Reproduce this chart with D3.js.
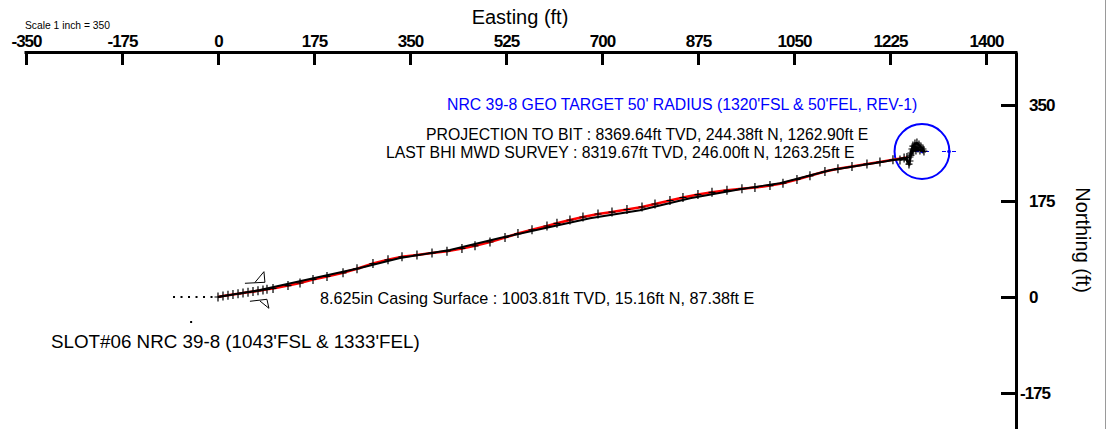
<!DOCTYPE html>
<html>
<head>
<meta charset="utf-8">
<script src="https://cdn.jsdelivr.net/npm/d3@7"></script>
<style>
  body { margin: 0; background: #fff; }
  text { font-family: "Liberation Sans", Arial, sans-serif; }
</style>
</head>
<body>
<svg id="chart" width="1107" height="429"></svg>
<script>
// axis ticks (ft)
const xTicks = [-350, -175, 0, 175, 350, 525, 700, 875, 1050, 1225, 1400];
const yTicks = [-175, 0, 175, 350];

// plan line (easting / northing, ft)
const planE = [0, 76.6, 167.7, 258.8, 331.8, 422.9, 514.0, 605.2, 678.1, 769.2, 860.4, 951.5, 1024.4, 1115.6, 1206.7, 1261.4];
const planN = [0, 12.8, 32.8, 52.9, 71.1, 85.7, 107.5, 127.6, 143.6, 158.2, 180.1, 196.5, 207.4, 231.1, 245.7, 254.8];

// survey stations (actual well path)
const surveyE = [0, 9.1, 18.2, 27.3, 36.5, 45.6, 54.7, 63.8, 72.9, 82.0, 89.3, 100.3, 127.6, 149.5, 173.2, 198.7, 227.9, 253.4,
  282.5, 309.9, 335.4, 362.7, 390.1, 417.4, 444.7, 468.5, 495.8, 523.2, 546.8, 572.4, 599.7,
  617.9, 641.6, 665.3, 692.7, 718.2, 745.5, 772.9, 796.6, 823.9, 847.6, 874.9, 900.5, 927.8,
  955.1, 978.8, 1006.2, 1029.9, 1055.4, 1079.1, 1106.4, 1130.1, 1155.7, 1183.0, 1206.7, 1230.4, 1255.9];
const surveyN = [0, 1.8, 3.1, 4.6, 5.8, 7.3, 8.6, 9.8, 11.3, 12.8, 14.0, 15.5, 20.9, 25.5, 31.9, 37.4, 44.1, 51.6,
  61.1, 67.8, 73.3, 76.6, 80.2, 83.5, 88.4, 93.3, 100.3, 108.5, 115.7, 122.5, 129.4,
  134.3, 140.4, 145.8, 151.3, 154.9, 159.5, 164.1, 169.5, 175.9, 181.4, 186.8, 190.8, 194.5,
  197.4, 199.6, 203.2, 207.4, 214.2, 220.9, 228.8, 233.9, 237.9, 242.3, 246.1, 250.1, 254.3];

// stations bunched up at the bottom of the hole
const endE = [1243.2, 1250.7, 1255.9, 1259.6, 1261.4, 1261.4, 1263.2, 1265.0, 1266.8, 1270.5, 1274.1, 1277.8, 1281.4,
  1285.1, 1286.9, 1279.6, 1272.3, 1266.8, 1276.0, 1270.5, 1263.2];
const endN = [249.7, 253.4, 249.7, 242.4, 247.9, 255.2, 262.5, 269.8, 275.2, 278.9, 280.7, 277.1, 273.4,
  269.8, 266.1, 268.0, 268.0, 266.1, 271.6, 273.4, 258.8];

// target
const targetE = 1283.3, targetN = 265.2, targetR = 50;
const markE = [1283.3, 1332.5], markN = [265.2, 265.2];

// casing shoe
const casingE = 87.38, casingN = 15.16;

// slot leader
const leaderE = [-82, -6], leaderN = [0, 0];
const slotDotE = -49, slotDotN = -45.6;

const svg = d3.select("#chart");

var x = d3.scaleLinear().domain([-350, 1400]).range([26, 986]);
var y = d3.scaleLinear().domain([-175, 350]).range([393, 105]);

// frame edge on right
svg.append("line").attr("x1", 1105.5).attr("x2", 1105.5).attr("y1", 0).attr("y2", 429)
  .attr("stroke", "#9a9a9a").attr("stroke-width", 1);

// top axis
var xa = x.copy().domain([x.invert(24), x.invert(1017)]).range([24, 1017]);
var gx = svg.append("g").attr("transform", "translate(0,52)")
  .call(d3.axisTop(xa).tickValues(xTicks).tickSizeInner(-13).tickSizeOuter(0).tickPadding(5).tickFormat(d => String(d)));
gx.select(".domain").attr("stroke-width", 3);
gx.selectAll(".tick line").attr("stroke-width", 3);
gx.selectAll(".tick text").attr("font-size", 17).attr("font-weight", "bold")
  .attr("font-family", "Liberation Sans, Arial, sans-serif").attr("letter-spacing", -1);

// right axis
var ya = y.copy().domain([y.invert(429), y.invert(52)]).range([429, 52]);
var gy = svg.append("g").attr("transform", "translate(1016,0)")
  .call(d3.axisRight(ya).tickValues(yTicks).tickSizeInner(-15).tickSizeOuter(0).tickPadding(13).tickFormat(d => String(d)));
gy.select(".domain").attr("stroke-width", 3);
gy.selectAll(".tick line").attr("stroke-width", 3);
gy.selectAll(".tick text").attr("font-size", 17).attr("font-weight", "bold")
  .attr("font-family", "Liberation Sans, Arial, sans-serif").attr("letter-spacing", -1)
  .attr("dx", d => d < 0 ? -9 : 0);

svg.append("text").text("Easting (ft)").attr("x", 520).attr("y", 24)
  .attr("text-anchor", "middle").attr("font-size", 20);
svg.append("text").text("Northing (ft)").attr("transform", "translate(1076,240) rotate(90)")
  .attr("text-anchor", "middle").attr("font-size", 20);
svg.append("text").text("Scale 1 inch = 350").attr("x", 25).attr("y", 29).attr("font-size", 10.3);

// target circle
svg.append("circle").attr("cx", x(targetE)).attr("cy", y(targetN))
  .attr("r", x(targetE + targetR) - x(targetE))
  .attr("fill", "none").attr("stroke", "#0000ff").attr("stroke-width", 2);
var marks = svg.append("g").selectAll("g").data(markE).join("g")
  .attr("transform", (d, i) => "translate(" + x(d) + "," + y(markN[i]) + ")");
marks.append("path").attr("d", "M-7,0H-3M3,0H7").attr("stroke", "#0000ff").attr("stroke-width", 1.2);
marks.append("circle").attr("r", 1.8).attr("fill", "#0000ff");

// slot leader dots
svg.append("line").attr("x1", x(leaderE[0])).attr("x2", x(leaderE[1]))
  .attr("y1", y(leaderN[0])).attr("y2", y(leaderN[1]))
  .attr("stroke", "#000").attr("stroke-width", 2).attr("stroke-dasharray", "2,5.5");
svg.append("rect").attr("x", x(slotDotE) - 1).attr("y", y(slotDotN) - 1).attr("width", 2).attr("height", 2).attr("fill", "#000");

var line = d3.line().x(d => x(d[0])).y(d => y(d[1]));
var survey = surveyE.map((e, i) => [e, surveyN[i]]);
var plan = planE.map((e, i) => [e, planN[i]]);
var ends = endE.map((e, i) => [e, endN[i]]);

svg.append("path").attr("d", line(survey)).attr("fill", "none").attr("stroke", "#ff0000").attr("stroke-width", 2.6);
svg.append("path").attr("d", line(plan)).attr("fill", "none").attr("stroke", "#000").attr("stroke-width", 1.9);
svg.append("path").attr("d", line(ends)).attr("fill", "none").attr("stroke", "#000").attr("stroke-width", 2.2);

// station crosses
svg.append("g").selectAll("path").data(survey.concat(ends)).join("path")
  .attr("transform", d => "translate(" + x(d[0]) + "," + y(d[1]) + ")")
  .attr("d", "M-3.5,0H3.5M0,-4.5V4.5").attr("stroke", "#000").attr("stroke-width", 1.2);

// casing shoe symbols
var cs = svg.append("g").attr("transform", "translate(" + x(casingE) + "," + y(casingN) + ")")
  .attr("fill", "none").attr("stroke", "#000").attr("stroke-width", 1);
cs.append("path").attr("d", "M-21,-5.4L-1,-6.4L-2,-17L-11,-6.2");
cs.append("path").attr("d", "M-16,12.6L1,10.6L3,19.6L-6,12.3");

// annotations
svg.append("text").text("NRC 39-8 GEO TARGET 50' RADIUS (1320'FSL & 50'FEL, REV-1)")
  .attr("x", 447).attr("y", 109.5).attr("font-size", 15.8).attr("fill", "#0000ff");
svg.append("text").text("PROJECTION TO BIT : 8369.64ft TVD, 244.38ft N, 1262.90ft E")
  .attr("x", 426).attr("y", 139.5).attr("font-size", 15.8);
svg.append("text").text("LAST BHI MWD SURVEY : 8319.67ft TVD, 246.00ft N, 1263.25ft E")
  .attr("x", 386).attr("y", 157.5).attr("font-size", 15.8);
svg.append("text").text("8.625in Casing Surface : 1003.81ft TVD, 15.16ft N, 87.38ft E")
  .attr("x", 320).attr("y", 303.5).attr("font-size", 16.2);
svg.append("text").text("SLOT#06 NRC 39-8 (1043'FSL & 1333'FEL)")
  .attr("x", 51).attr("y", 348).attr("font-size", 18.8);
</script>
</body>
</html>
